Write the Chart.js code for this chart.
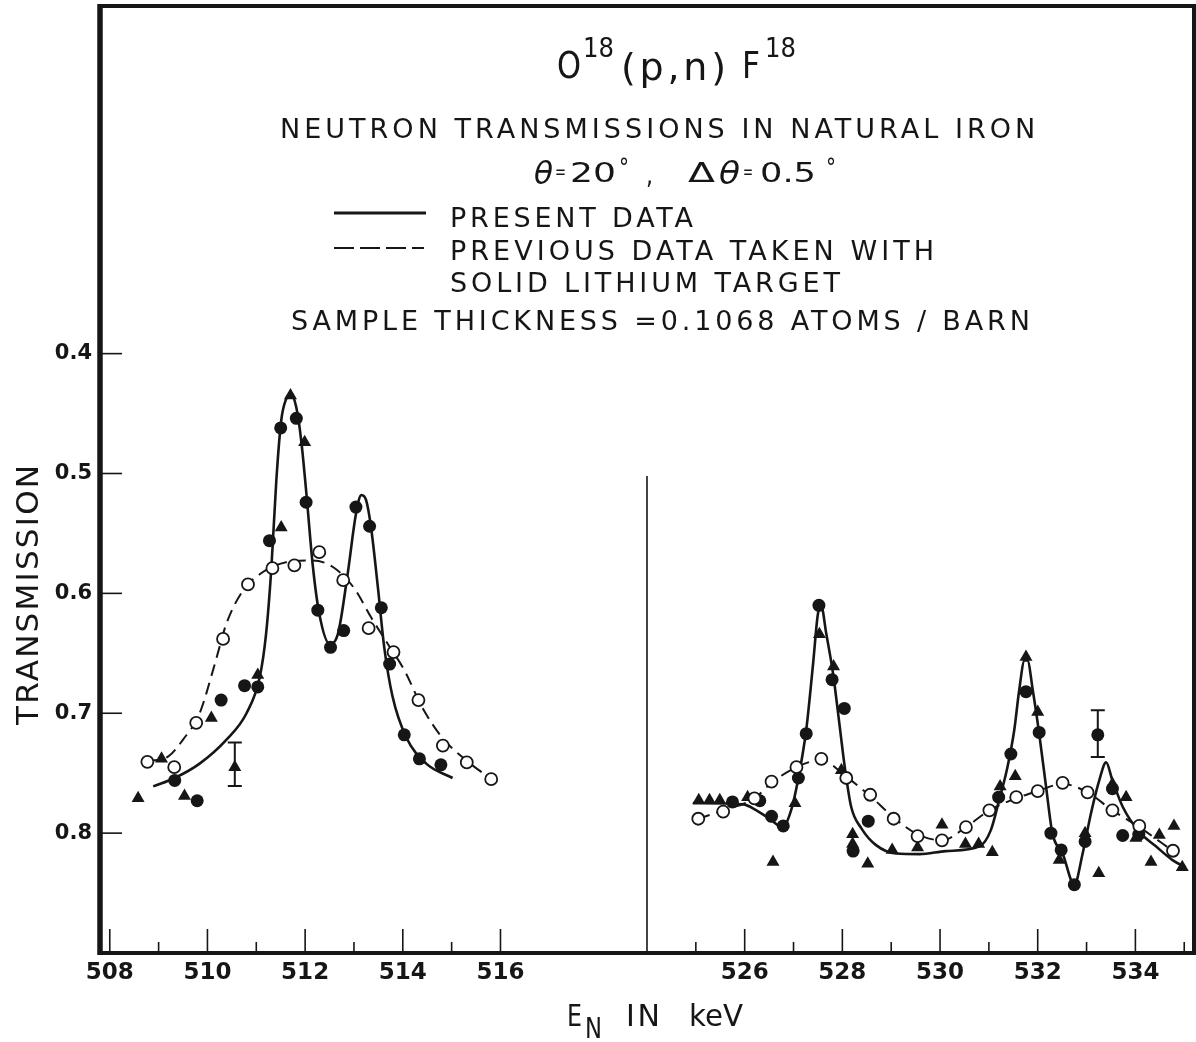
<!DOCTYPE html>
<html>
<head>
<meta charset="utf-8">
<script src="https://cdn.jsdelivr.net/npm/chart.js@4.4.1/dist/chart.umd.min.js"></script>
<style>
html,body{margin:0;padding:0;background:#fff;overflow:hidden;}
#c{display:block;}
</style>
</head>
<body>
<canvas id="c" width="1196" height="1042"></canvas>
<script>
// ---------- axis break (keV) ----------
const BREAK_LOW = 519;
const BREAK_HIGH = 524;

// ---------- tick values (keV) ----------
const xTicksLeft = [508, 509, 510, 511, 512, 513, 514, 515, 516];
const xTicksRight = [525, 526, 527, 528, 529, 530, 531, 532, 533, 534, 535];
const xLabelTicks = [508, 510, 512, 514, 516, 526, 528, 530, 532, 534];
const yTicks = [0.4, 0.5, 0.6, 0.7, 0.8];

// ---------- present data: filled circles ----------
const circE = [509.33, 509.79, 510.28, 510.76, 511.03, 511.27, 511.50, 511.82, 512.02, 512.26, 512.52, 512.79, 513.04, 513.32, 513.56, 513.73, 514.03, 514.34, 514.78,
  525.75, 526.31, 526.55, 526.79, 527.10, 527.26, 527.52, 527.79, 528.04, 528.22, 528.53, 531.20, 531.45, 531.76, 532.03, 532.27, 532.48, 532.75, 532.97, 533.23, 533.53, 533.74, 534.07];
const circT = [0.756, 0.773, 0.689, 0.677, 0.678, 0.556, 0.462, 0.454, 0.524, 0.614, 0.645, 0.631, 0.528, 0.544, 0.612, 0.659, 0.718, 0.738, 0.743,
  0.774, 0.773, 0.786, 0.794, 0.754, 0.717, 0.610, 0.672, 0.696, 0.815, 0.790, 0.770, 0.734, 0.682, 0.716, 0.800, 0.814, 0.843, 0.807, 0.718, 0.763, 0.802, 0.801];

// ---------- present data: filled triangles ----------
const triE = [508.58, 509.06, 509.53, 510.08, 510.56, 511.03, 511.51, 511.70, 511.99,
  525.06, 525.28, 525.49, 526.06, 526.58, 527.03, 527.53, 527.82, 527.98, 528.21, 528.21, 528.52, 529.02, 529.54, 530.04, 530.52, 530.79, 531.07, 531.23, 531.54, 531.76, 532.00, 532.44, 532.97, 533.25, 533.53, 533.81, 534.01, 534.32, 534.49, 534.79, 534.96];
const triT = [0.771, 0.738, 0.769, 0.704, 0.745, 0.668, 0.545, 0.435, 0.474,
  0.7725, 0.7725, 0.7725, 0.770, 0.824, 0.775, 0.634, 0.661, 0.7475, 0.801, 0.809, 0.8255, 0.814, 0.812, 0.793, 0.809, 0.809, 0.816, 0.761, 0.7525, 0.653, 0.699, 0.8225, 0.800, 0.8335, 0.759, 0.770, 0.804, 0.824, 0.8015, 0.794, 0.8285];

// ---------- previous data: open circles ----------
const openE = [508.77, 509.32, 509.77, 510.32, 510.83, 511.33, 511.78, 512.29, 512.78, 513.30, 513.81, 514.32, 514.82, 515.31, 515.81,
  525.05, 525.56, 526.20, 526.55, 527.06, 527.57, 528.08, 528.57, 529.05, 529.54, 530.04, 530.53, 531.01, 531.56, 532.00, 532.51, 533.02, 533.53, 534.08, 534.77];
const openT = [0.7405, 0.745, 0.708, 0.638, 0.5925, 0.579, 0.5767, 0.5656, 0.589, 0.629, 0.649, 0.689, 0.727, 0.741, 0.755,
  0.788, 0.782, 0.771, 0.757, 0.745, 0.738, 0.754, 0.768, 0.788, 0.8025, 0.806, 0.795, 0.781, 0.770, 0.765, 0.758, 0.766, 0.781, 0.794, 0.8147];

// ---------- error bars ----------
const errE = [510.56, 533.23];
const errLo = [0.7245, 0.6975];
const errHi = [0.7606, 0.7364];

// ---------- present-data curve (solid) ----------
const presLE = [508.89, 509.33, 509.84, 510.39, 510.80, 511.07, 511.20, 511.31, 511.41, 511.51, 511.61, 511.71, 511.82, 511.92, 512.02, 512.16, 512.29, 512.50, 512.67, 512.87, 513.04, 513.15, 513.25, 513.35, 513.49, 513.62, 513.79, 514.07, 514.48, 515.02];
const presLT = [0.761, 0.754, 0.742, 0.722, 0.700, 0.670, 0.634, 0.578, 0.506, 0.456, 0.438, 0.434, 0.445, 0.4725, 0.514, 0.578, 0.617, 0.642, 0.634, 0.584, 0.534, 0.518, 0.5225, 0.545, 0.595, 0.645, 0.686, 0.720, 0.742, 0.754];
const presRE = [524.94, 525.97, 526.24, 526.51, 526.78, 526.95, 527.09, 527.26, 527.40, 527.50, 527.57, 527.67, 527.81, 527.94, 528.05, 528.18, 528.39, 528.69, 529.10, 529.58, 530.12, 530.81, 531.04, 531.21, 531.38, 531.52, 531.62, 531.73, 531.79, 531.90, 532.03, 532.17, 532.30, 532.51, 532.75, 532.92, 533.09, 533.26, 533.40, 533.53, 533.74, 534.08, 534.42, 534.76, 535.03];
const presRT = [0.775, 0.776, 0.781, 0.788, 0.795, 0.781, 0.756, 0.714, 0.659, 0.617, 0.611, 0.6335, 0.667, 0.709, 0.745, 0.778, 0.796, 0.810, 0.817, 0.8175, 0.815, 0.811, 0.7975, 0.7725, 0.745, 0.714, 0.681, 0.656, 0.656, 0.681, 0.717, 0.761, 0.800, 0.817, 0.843, 0.817, 0.7836, 0.756, 0.741, 0.756, 0.778, 0.799, 0.811, 0.8225, 0.8286];

// ---------- previous-data curve (dashed) ----------
const prevLE = [508.78, 509.20, 509.50, 509.84, 510.15, 510.39, 510.73, 511.07, 511.61, 512.16, 512.57, 513.01, 513.35, 513.69, 514.03, 514.41, 514.82, 515.29, 515.81];
const prevLT = [0.740, 0.736, 0.722, 0.700, 0.659, 0.625, 0.5975, 0.584, 0.574, 0.5725, 0.578, 0.596, 0.620, 0.642, 0.664, 0.696, 0.721, 0.739, 0.755];
const prevRE = [525.05, 525.56, 526.20, 526.55, 527.06, 527.57, 528.08, 528.57, 529.05, 529.54, 530.04, 530.53, 531.01, 531.56, 532.00, 532.51, 533.02, 533.53, 534.08, 534.77];
const prevRT = [0.788, 0.781, 0.771, 0.758, 0.745, 0.739, 0.753, 0.769, 0.787, 0.801, 0.806, 0.795, 0.781, 0.771, 0.765, 0.759, 0.766, 0.781, 0.795, 0.815];

// ---------- helpers ----------
const GAP = BREAK_HIGH - BREAK_LOW;
function tx(e) { return e <= BREAK_LOW ? e : e - GAP; }
function labelOf(t) { return t <= BREAK_LOW + 0.001 ? t : t + GAP; }
function pts(E, T) { return E.map((e, i) => ({ x: tx(e), y: T[i] })); }

const INK = '#161616';
const FONT = 'DejaVu Sans';

// draw text so that it spans `width`: letter-spaced, or horizontally scaled if scaleOnly
function drawFit(ctx, text, x, y, font, width, scaleOnly) {
  ctx.save();
  ctx.font = font;
  ctx.fillStyle = INK;
  ctx.textAlign = 'left';
  ctx.textBaseline = 'alphabetic';
  const hasLS = ('letterSpacing' in ctx);
  if (hasLS) ctx.letterSpacing = '0px';
  const nat = ctx.measureText(text).width;
  const n = [...text].length;
  if (!scaleOnly && hasLS && n > 1 && nat < width) {
    ctx.letterSpacing = ((width - nat) / (n - 1)).toFixed(2) + 'px';
    ctx.fillText(text, x, y);
  } else {
    ctx.translate(x, y);
    ctx.scale(width / nat, 1);
    ctx.fillText(text, 0, 0);
  }
  ctx.restore();
}

const decor = {
  id: 'decor',
  afterDatasetsDraw(chart) {
    const ctx = chart.ctx;
    const a = chart.chartArea;
    const xs = chart.scales.x, ys = chart.scales.y;
    ctx.save();
    ctx.strokeStyle = INK;
    ctx.lineCap = 'butt';
    // frame
    ctx.lineWidth = 4;
    ctx.strokeRect(a.left, a.top, a.right - a.left, a.bottom - a.top);
    ctx.lineWidth = 5.5;
    ctx.beginPath(); ctx.moveTo(a.left, a.top - 2); ctx.lineTo(a.left, a.bottom + 2); ctx.stroke();
    // x ticks (inward)
    ctx.lineWidth = 1.6;
    xTicksLeft.concat(xTicksRight).forEach(v => {
      const px = xs.getPixelForValue(tx(v));
      const len = (v % 2 === 0) ? 24 : 11;
      ctx.beginPath(); ctx.moveTo(px, a.bottom); ctx.lineTo(px, a.bottom - len); ctx.stroke();
    });
    // y ticks (inward)
    yTicks.forEach(v => {
      const py = ys.getPixelForValue(v);
      ctx.beginPath(); ctx.moveTo(a.left, py); ctx.lineTo(a.left + 22, py); ctx.stroke();
    });
    // break line
    ctx.lineWidth = 1.6;
    const bx = xs.getPixelForValue(BREAK_LOW);
    ctx.beginPath(); ctx.moveTo(bx, ys.getPixelForValue(0.502)); ctx.lineTo(bx, a.bottom); ctx.stroke();
    // error bars
    ctx.lineWidth = 2;
    errE.forEach((e, i) => {
      const px = xs.getPixelForValue(tx(e));
      const p1 = ys.getPixelForValue(errLo[i]);
      const p2 = ys.getPixelForValue(errHi[i]);
      ctx.beginPath();
      ctx.moveTo(px, p1); ctx.lineTo(px, p2);
      ctx.moveTo(px - 7, p1); ctx.lineTo(px + 7, p1);
      ctx.moveTo(px - 7, p2); ctx.lineTo(px + 7, p2);
      ctx.stroke();
    });
    // legend samples
    ctx.lineWidth = 3;
    ctx.beginPath(); ctx.moveTo(334, 213); ctx.lineTo(426, 213); ctx.stroke();
    ctx.lineWidth = 2;
    ctx.setLineDash([20, 6]);
    ctx.beginPath(); ctx.moveTo(334, 248); ctx.lineTo(424, 248); ctx.stroke();
    ctx.setLineDash([]);
    ctx.restore();

    // ---------- texts ----------
    drawFit(ctx, 'O', 557, 78, `38px ${FONT}`, 24, true);
    drawFit(ctx, '18', 583, 57, `27px ${FONT}`, 31, true);
    drawFit(ctx, '(p,n)', 621, 80, `38px ${FONT}`, 105);
    drawFit(ctx, 'F', 742, 78, `38px ${FONT}`, 18, true);
    drawFit(ctx, '18', 765, 57, `27px ${FONT}`, 31, true);

    drawFit(ctx, 'NEUTRON TRANSMISSIONS IN NATURAL IRON', 280, 138, `27px ${FONT}`, 755);

    drawFit(ctx, 'θ', 534, 184, `italic 32px ${FONT}`, 19, true);
    drawFit(ctx, '=', 555, 178, `20px ${FONT}`, 11, true);
    drawFit(ctx, '20', 570, 182, `27px ${FONT}`, 46, true);
    drawFit(ctx, '°', 619, 176, `24px ${FONT}`, 10, true);
    drawFit(ctx, ',', 646, 184, `27px ${FONT}`, 7, true);
    drawFit(ctx, 'Δ', 688, 182, `27px ${FONT}`, 27, true);
    drawFit(ctx, 'θ', 719, 184, `italic 32px ${FONT}`, 21, true);
    drawFit(ctx, '=', 743, 178, `20px ${FONT}`, 10, true);
    drawFit(ctx, '0.5', 760, 182, `27px ${FONT}`, 56, true);
    drawFit(ctx, '°', 826, 176, `24px ${FONT}`, 10, true);

    drawFit(ctx, 'PRESENT DATA', 450, 227, `27px ${FONT}`, 243);
    drawFit(ctx, 'PREVIOUS DATA TAKEN WITH', 450, 260, `27px ${FONT}`, 484);
    drawFit(ctx, 'SOLID LITHIUM TARGET', 450, 292, `27px ${FONT}`, 390);
    drawFit(ctx, 'SAMPLE THICKNESS =0.1068 ATOMS / BARN', 291, 330, `27px ${FONT}`, 739);

    // y axis title
    ctx.save();
    ctx.translate(38, 725);
    ctx.rotate(-Math.PI / 2);
    drawFit(ctx, 'TRANSMISSION', 0, 0, `31px ${FONT}`, 260);
    ctx.restore();

    // x axis title
    drawFit(ctx, 'E', 567, 1026, `30px ${FONT}`, 15, true);
    drawFit(ctx, 'N', 585, 1038, `28px ${FONT}`, 17, true);
    drawFit(ctx, 'IN', 626, 1026, `30px ${FONT}`, 34);
    drawFit(ctx, 'keV', 689, 1026, `30px ${FONT}`, 54, true);
  }
};

const lineBase = { showLine: true, pointRadius: 0, borderColor: INK, fill: false, cubicInterpolationMode: 'monotone', order: 10 };

new Chart(document.getElementById('c'), {
  type: 'scatter',
  data: {
    datasets: [
      Object.assign({ label: 'Present data (curve, low)', data: pts(presLE, presLT), borderWidth: 2.6 }, lineBase),
      Object.assign({ label: 'Present data (curve, high)', data: pts(presRE, presRT), borderWidth: 2.6 }, lineBase),
      Object.assign({ label: 'Previous data (curve, low)', data: pts(prevLE, prevLT), borderWidth: 2, borderDash: [12, 7] }, lineBase),
      Object.assign({ label: 'Previous data (curve, high)', data: pts(prevRE, prevRT), borderWidth: 2, borderDash: [12, 7] }, lineBase),
      { label: 'Present data (circles)', data: pts(circE, circT), pointStyle: 'circle', pointRadius: 6.5, backgroundColor: INK, borderColor: INK, borderWidth: 0, order: 3 },
      { label: 'Present data (triangles)', data: pts(triE, triT), pointStyle: 'triangle', pointRadius: 7.5, backgroundColor: INK, borderColor: INK, borderWidth: 0, order: 2 },
      { label: 'Previous data (solid lithium target)', data: pts(openE, openT), pointStyle: 'circle', pointRadius: 6, backgroundColor: '#ffffff', borderColor: INK, borderWidth: 1.8, order: 1 }
    ]
  },
  options: {
    responsive: false,
    maintainAspectRatio: false,
    devicePixelRatio: 1,
    animation: false,
    events: [],
    layout: { autoPadding: false, padding: { top: 6, right: 2, left: 0, bottom: 0 } },
    plugins: { legend: { display: false }, tooltip: { enabled: false }, title: { display: false } },
    scales: {
      x: {
        type: 'linear', position: 'bottom', min: 507.8, max: 530.2,
        afterFit(s) { s.height = 89; s.paddingLeft = 0; s.paddingRight = 0; s.paddingTop = 0; s.paddingBottom = 0; },
        afterBuildTicks(s) { s.ticks = xLabelTicks.map(v => ({ value: tx(v) })); },
        ticks: {
          autoSkip: false, maxRotation: 0, padding: 6, color: INK,
          font: { family: FONT, size: 23, weight: 'bold' },
          callback: (v) => String(Math.round(labelOf(v)))
        },
        grid: { display: false, drawTicks: false },
        border: { display: false }
      },
      y: {
        type: 'linear', reverse: true, min: 0.11, max: 0.90,
        afterFit(s) { s.width = 100; s.paddingLeft = 0; s.paddingRight = 0; s.paddingTop = 0; s.paddingBottom = 0; },
        afterBuildTicks(s) { s.ticks = yTicks.map(v => ({ value: v })); },
        ticks: {
          padding: 8, color: INK,
          font: { family: FONT, size: 21, weight: 'bold' },
          callback: (v) => Number(v).toFixed(1)
        },
        grid: { display: false, drawTicks: false },
        border: { display: false }
      }
    }
  },
  plugins: [decor]
});
</script>
</body>
</html>
